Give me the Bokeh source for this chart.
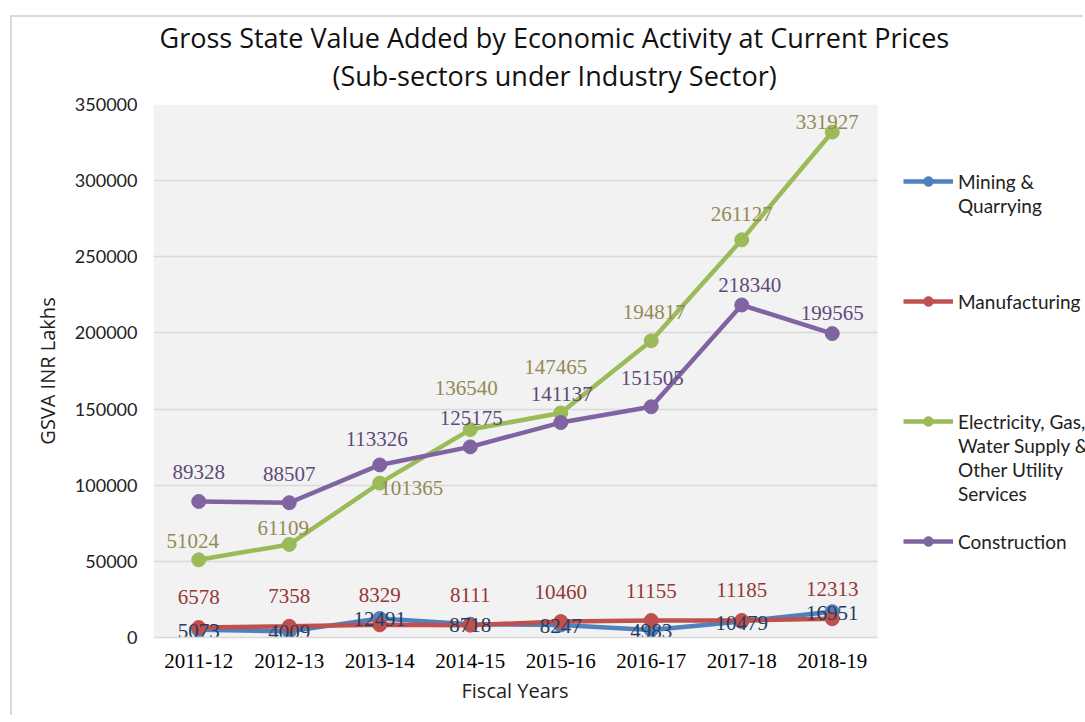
from bokeh.plotting import figure
from bokeh.models import (ColumnDataSource, Legend, LegendItem, Title, Range1d, NumeralTickFormatter,
                          FixedTicker, BoxAnnotation)
from bokeh.core.properties import value
from bokeh.embed import file_html
from bokeh.resources import INLINE

years = ["2011-12", "2012-13", "2013-14", "2014-15", "2015-16", "2016-17", "2017-18", "2018-19"]
mining = [5073, 4009, 12491, 8718, 8247, 4983, 10479, 16951]
manufacturing = [6578, 7358, 8329, 8111, 10460, 11155, 11185, 12313]
electricity = [51024, 61109, 101365, 136540, 147465, 194817, 261127, 331927]
construction = [89328, 88507, 113326, 125175, 141137, 151505, 218340, 199565]
y_ticks = [0, 50000, 100000, 150000, 200000, 250000, 300000, 350000]

# legend text, one list of lines per series
series_lines = [["Mining &", "Quarrying"], ["Manufacturing"],
                ["Electricity, Gas,", "Water Supply &", "Other Utility", "Services"], ["Construction"]]

# label placement (screen px) per point, style only
mining_dx = [0, 0, 0, 0, 0, 0, 0, 0]
mining_dy = [1, 1, 1, 1, 1, 1, 1, 1]
manu_dx = [0, 0, 0, 0, 0, 0, 0, 0]
manu_dy = [-30, -30, -30, -30, -30, -30, -30, -30]
elec_dx = [-6, -6, 32, -4, -5, 3, 0, -5]
elec_dy = [-19, -16, 5, -42, -46, -29, -26, -10]
cons_dx = [0, 0, -3, 1, 1, 1, 8, 0]
cons_dy = [-29, -29, -26, -29, -29, -29, -20, -21]

n = len(years)
xi = list(range(n))
cat_lo, cat_hi = -0.5, n - 0.5
# plot area is 724 px for the categories; the frame continues 208 px to the right for the legend
x_end = cat_hi + 208 / (724 / n)

W, H = 1073, 700
p = figure(width=W, height=H, x_range=Range1d(cat_lo, x_end), y_range=Range1d(y_ticks[0], y_ticks[-1]),
           output_backend="svg", toolbar_location=None,
           min_border_left=141, min_border_right=0, min_border_top=87, min_border_bottom=80)
p.styles = {"margin-left": "10px", "margin-top": "15px",
            "border-left": "2px solid #d9d9d9", "border-top": "2px solid #d9d9d9"}

p.background_fill_color = "white"
p.border_fill_color = "white"
p.outline_line_color = None
p.add_layout(BoxAnnotation(left=cat_lo, right=cat_hi, fill_color="#F2F2F2", fill_alpha=1,
                           line_color=None, level="image"))
p.xgrid.grid_line_color = None
p.ygrid.grid_line_color = "#d9d9d9"
p.ygrid.grid_line_width = 1.5
p.ygrid.ticker = FixedTicker(ticks=y_ticks)
try:
    p.ygrid.cross_bounds = (cat_lo, cat_hi)
except Exception:
    p.ygrid.grid_line_color = None
    p.segment(x0=[cat_lo] * len(y_ticks), x1=[cat_hi] * len(y_ticks), y0=y_ticks, y1=y_ticks,
              line_color="#d9d9d9", line_width=1.5, level="underlay")

p.yaxis.ticker = FixedTicker(ticks=y_ticks)
p.yaxis.formatter = NumeralTickFormatter(format="0")
p.yaxis.axis_line_color = None
p.yaxis.major_tick_line_color = None
p.yaxis.minor_tick_line_color = None
p.yaxis.major_label_text_font = "Lato"
p.yaxis.major_label_text_font_size = "18px"
p.yaxis.major_label_text_color = "#222222"
p.yaxis.major_label_standoff = 10
p.yaxis.axis_label = "GSVA INR Lakhs"
p.yaxis.axis_label_text_font = "Open Sans"
p.yaxis.axis_label_text_font_size = "20px"
p.yaxis.axis_label_text_font_style = "normal"
p.yaxis.axis_label_text_color = "#222222"
p.yaxis.axis_label_standoff = 11

p.xaxis.ticker = FixedTicker(ticks=xi)
p.xaxis.major_label_overrides = {i: y for i, y in zip(xi, years)}
p.xaxis.bounds = (cat_lo, cat_hi)
p.xaxis.axis_line_color = "#d9d9d9"
p.xaxis.axis_line_width = 1.5
p.xaxis.major_tick_line_color = None
p.xaxis.minor_tick_line_color = None
p.xaxis.major_label_text_font = "Liberation Serif"
p.xaxis.major_label_text_font_size = "21px"
p.xaxis.major_label_text_color = "black"
p.xaxis.major_label_standoff = 10

# x axis title, placed under the category area (not under the legend)
xtitle = Title(text="Fiscal Years", align="left", offset=308,
               text_font="Open Sans", text_font_size="20px", text_font_style="normal",
               text_color="#222222", standoff=8)
p.add_layout(xtitle, "below")

sub = Title(text="(Sub-sectors under Industry Sector)", align="left", offset=179,
            text_font="Open Sans", text_font_size="27px", text_font_style="normal",
            text_color="#111111", standoff=21)
main = Title(text="Gross State Value Added by Economic Activity at Current Prices", align="left", offset=6,
             text_font="Open Sans", text_font_size="27px", text_font_style="normal",
             text_color="#111111", standoff=-22)
p.add_layout(sub, "above")
p.add_layout(main, "above")

colors = ["#4F81BD", "#C0504D", "#9BBB59", "#8064A2"]
label_colors = ["#263D5E", "#953735", "#948A54", "#5F497A"]
all_vals = [mining, manufacturing, electricity, construction]
all_dx = [mining_dx, manu_dx, elec_dx, cons_dx]
all_dy = [mining_dy, manu_dy, elec_dy, cons_dy]

renderers = []
for vals, c in zip(all_vals, colors):
    src = ColumnDataSource(dict(x=xi, y=vals))
    r1 = p.line("x", "y", source=src, line_color=c, line_width=4.5)
    r2 = p.scatter("x", "y", source=src, size=14, fill_color=c, line_color=c)
    renderers.append([r1, r2])

for vals, lc, dx, dy in zip(all_vals, label_colors, all_dx, all_dy):
    src = ColumnDataSource(dict(x=xi, y=vals, t=[str(v) for v in vals], dx=dx, dy=dy))
    p.text("x", "y", text="t", source=src, x_offset="dx", y_offset="dy",
           text_font=value("Liberation Serif"), text_font_size="21px",
           text_color=lc, text_align="center", text_baseline="middle")

# invisible renderer for continuation / spacer rows of the legend
blank = p.line(x=[], y=[], line_alpha=0)
ROWS_PER_ENTRY = 5
items = []
for lines, rs in zip(series_lines, renderers):
    items.append(LegendItem(label=lines[0], renderers=rs))
    for ln in lines[1:]:
        items.append(LegendItem(label=ln, renderers=[blank]))
    for _ in range(ROWS_PER_ENTRY - len(lines)):
        items.append(LegendItem(label="\u00a0", renderers=[blank]))
items = items[:-(ROWS_PER_ENTRY - 1)]

row_h = 24
leg_h = row_h * len(items)
leg = Legend(items=items, location=(750, 533 - 65 - leg_h), padding=0, margin=0, spacing=0,
             border_line_color=None, background_fill_alpha=0,
             glyph_width=50, glyph_height=row_h, label_height=row_h, label_standoff=5,
             label_text_font="Lato", label_text_font_size="19px", label_text_color="#222222",
             label_text_baseline="middle")
p.add_layout(leg, "center")

open("out.html", "w").write(file_html(p, INLINE))
